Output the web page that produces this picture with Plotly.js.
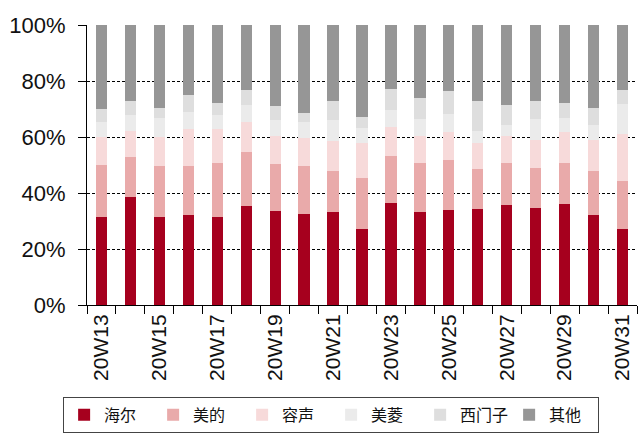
<!DOCTYPE html>
<html>
<head>
<meta charset="utf-8">
<script src="https://cdn.plot.ly/plotly-3.0.1.min.js"></script>
<style>
  body { margin: 0; background: #fff; }
  #myPlot { width: 638px; height: 436px; }
</style>
</head>
<body>
<div id="myPlot"></div>
<script>
// weeks 20W13 .. 20W31
const weeks = ['20W13', '20W14', '20W15', '20W16', '20W17', '20W18', '20W19', '20W20', '20W21', '20W22',
               '20W23', '20W24', '20W25', '20W26', '20W27', '20W28', '20W29', '20W30', '20W31'];

// market share by brand (%)
const haier   = [31.3, 38.4, 31.6, 32.0, 31.3, 35.2, 33.4, 32.5, 33.1, 27.0, 36.6, 33.1, 33.9, 34.4, 35.7, 34.8, 36.1, 32.0, 27.0];
const midea   = [18.6, 14.3, 17.9, 17.5, 19.5, 19.3, 16.9, 17.0, 14.9, 18.3, 16.6, 17.7, 17.8, 14.1, 15.1, 14.2, 14.7, 16.0, 17.4];
const ronshen = [10.0,  9.5, 10.4, 13.2, 11.9, 10.9, 10.1, 10.0, 10.5, 12.4, 10.4,  9.6, 10.0,  9.2,  9.6, 10.0, 10.9, 11.0, 16.8];
const meiling = [ 5.5,  5.5,  6.9,  6.4,  5.0,  5.9,  5.5,  5.9,  7.4,  5.4,  6.0,  5.9,  6.4,  4.5,  4.0,  7.3,  5.1,  5.4, 10.6];
const siemens = [ 4.6,  5.1,  3.7,  5.9,  4.6,  5.6,  5.0,  3.2,  6.9,  4.1,  7.7,  7.8,  8.4, 10.6,  6.9,  6.5,  5.5,  6.1,  5.1];
const others  = [30.0, 27.2, 29.5, 25.0, 27.7, 23.1, 29.1, 31.4, 27.2, 32.8, 22.7, 25.9, 23.5, 27.2, 28.7, 27.2, 27.7, 29.5, 23.1];

const names  = ['海尔', '美的', '容声', '美菱', '西门子', '其他'];
const series = [haier, midea, ronshen, meiling, siemens, others];
const colors = ['#A6001E', '#E9AAAA', '#F7DADA', '#EBEBEB', '#DEDEDE', '#969696'];

// only every other week gets a label
const tickText = weeks.map((w, i) => (i % 2 === 0 ? w : ''));

const data = series.map((vals, i) => ({
    x: weeks,
    y: vals,
    name: names[i],
    type: 'bar',
    width: 0.39,
    marker: {color: colors[i], line: {width: 0}},
}));

const layout = {
    width: 638,
    height: 436,
    barmode: 'stack',
    barnorm: 'percent',
    margin: {l: 87, r: 1, t: 24.5, b: 130.5},
    font: {family: 'Liberation Sans, Arial, sans-serif', color: '#000'},
    xaxis: {
        type: 'category',
        automargin: false,
        tickvals: weeks,
        ticktext: tickText,
        tickangle: -90,
        tickfont: {size: 21, color: '#111'},
        tickson: 'boundaries',
        ticks: 'outside',
        ticklen: 8,
        tickcolor: '#000',
        showline: true,
        linecolor: '#000',
        linewidth: 1,
        showgrid: false,
        zeroline: false,
    },
    yaxis: {
        automargin: false,
        range: [0, 100],
        dtick: 20,
        ticksuffix: '%',
        tickfont: {size: 22, color: '#111'},
        ticks: 'outside',
        ticklen: 8,
        tickcolor: '#000',
        ticklabelstandoff: 8,
        showline: true,
        linecolor: '#000',
        linewidth: 1,
        showgrid: true,
        gridcolor: '#000',
        gridwidth: 1,
        griddash: '3px,2px',
        zeroline: false,
    },
    legend: {
        orientation: 'h',
        traceorder: 'normal',
        xref: 'container',
        yref: 'container',
        x: 0.519,
        xanchor: 'center',
        y: 0.09,
        yanchor: 'top',
        entrywidth: 44,
        bordercolor: '#444',
        borderwidth: 1,
        font: {family: 'Noto Sans CJK SC', size: 16, color: '#111'},
    },
    showlegend: true,
    paper_bgcolor: '#fff',
    plot_bgcolor: '#fff',
};

Plotly.newPlot('myPlot', data, layout, {displayModeBar: false, staticPlot: true});
</script>
</body>
</html>
